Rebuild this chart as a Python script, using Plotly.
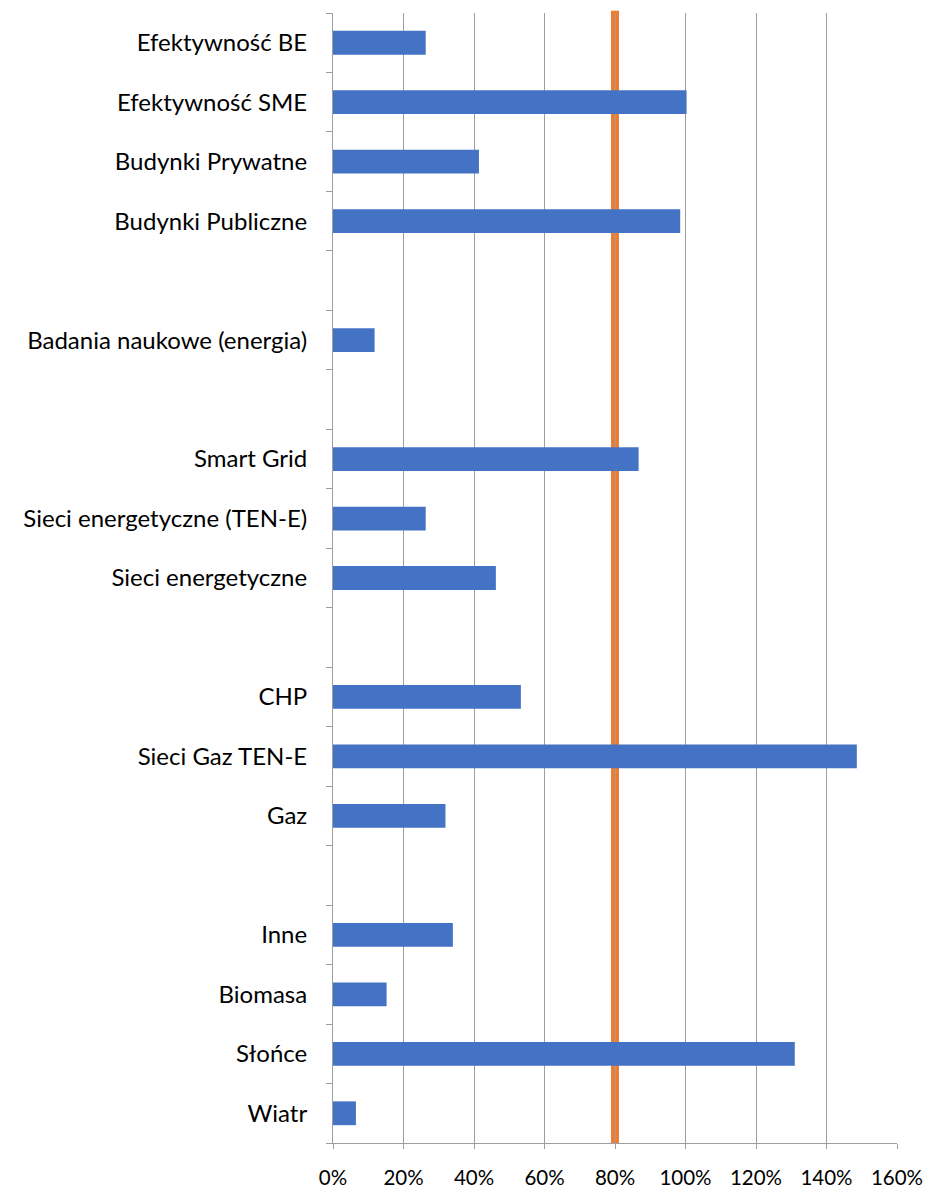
import plotly.graph_objects as go

# Categories from top to bottom; "" marks an empty slot (gap between groups)
categories = [
    "Efektywność BE", "Efektywność SME", "Budynki Prywatne", "Budynki Publiczne",
    "",
    "Badania naukowe (energia)",
    "",
    "Smart Grid", "Sieci energetyczne (TEN-E)", "Sieci energetyczne",
    "",
    "CHP", "Sieci Gaz TEN-E", "Gaz",
    "",
    "Inne", "Biomasa", "Słońce", "Wiatr",
]
values = [
    0.263, 1.003, 0.414, 0.985,
    None,
    0.118,
    None,
    0.867, 0.263, 0.462,
    None,
    0.533, 1.486, 0.319,
    None,
    0.340, 0.152, 1.310, 0.065,
]
target = 0.80
x_ticks = [0, 0.2, 0.4, 0.6, 0.8, 1.0, 1.2, 1.4, 1.6]

pos = list(range(len(categories)))
label_pos = [p for p, c in zip(pos, categories) if c]
label_txt = [c for c in categories if c]
bar_pos = [p for p, v in zip(pos, values) if v is not None]
bar_val = [v for v in values if v is not None]

FONT = "Lato, Calibri, Carlito, sans-serif"
GRID = "#9E9E9E"

fig = go.Figure()
fig.add_trace(go.Bar(
    x=bar_val, y=bar_pos, orientation="h",
    marker=dict(color="#4472C4", line=dict(width=0)),
    width=0.4, showlegend=False, hoverinfo="x+y",
))

fig.add_shape(
    type="line", xref="x", yref="paper",
    x0=target, x1=target, y0=0, y1=1.002,
    line=dict(color="#ED7D31", width=8), layer="below",
)

fig.update_layout(
    width=932, height=1188,
    margin=dict(l=333, r=35, t=13, b=45, autoexpand=False),
    paper_bgcolor="white", plot_bgcolor="white",
    font=dict(family=FONT, size=20, color="#000000"),
    bargap=0.6,
)
fig.update_xaxes(
    range=[0, 1.6], tickvals=x_ticks, tickformat=".0%",
    showgrid=True, gridcolor=GRID, gridwidth=1,
    showline=True, linecolor=GRID, linewidth=1,
    ticks="outside", ticklen=5, tickcolor=GRID,
    zeroline=False, ticklabelstandoff=11,
    tickfont=dict(family=FONT, size=20.5, color="#000000"),
)
fig.update_yaxes(
    range=[len(categories) - 0.5, -0.5],
    tickmode="array", tickvals=label_pos, ticktext=label_txt,
    ticks="", showgrid=False, zeroline=False,
    showline=True, linecolor=GRID, linewidth=1,
    ticklabelstandoff=20,
    tickfont=dict(family=FONT, size=24, color="#000000"),
    minor=dict(
        tickmode="linear", tick0=-0.5, dtick=1,
        ticks="outside", ticklen=6, tickcolor=GRID, showgrid=False,
    ),
)

fig.write_html(
    "out.html",
    config={"displayModeBar": False},
    post_script="document.body.style.margin='0';document.body.style.overflow='hidden';",
)
